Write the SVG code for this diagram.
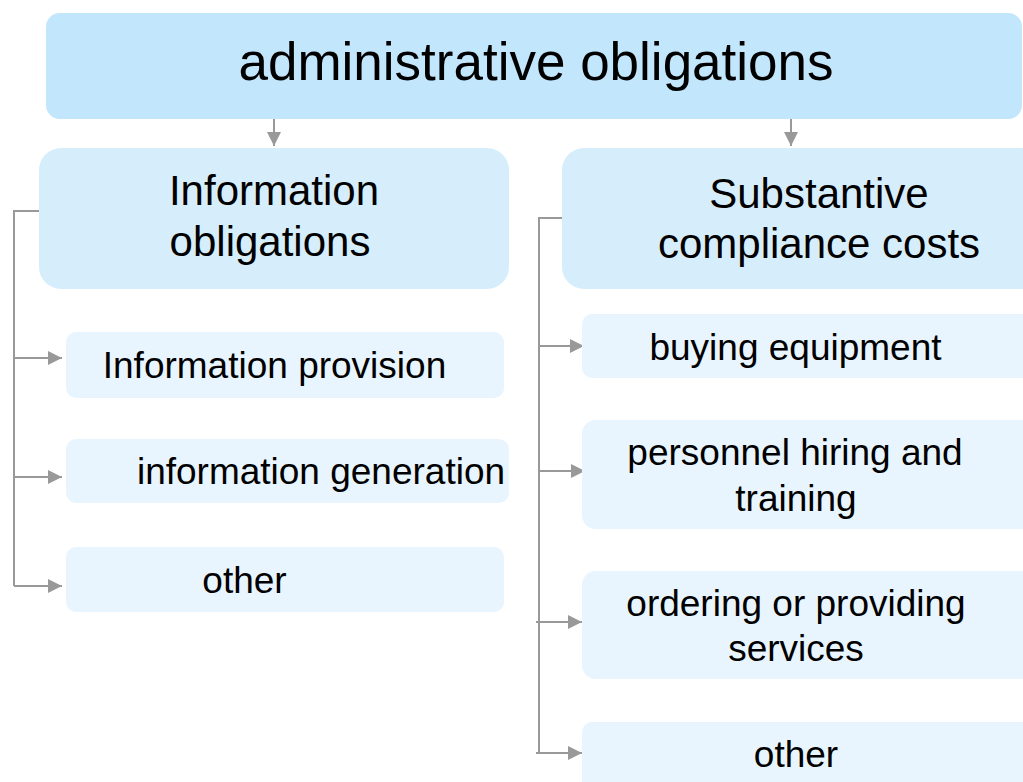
<svg xmlns="http://www.w3.org/2000/svg" width="1023" height="782" viewBox="0 0 1023 782">
<defs>
<style>
text{font-family:"Liberation Sans",Arial,sans-serif;fill:#000;text-anchor:middle}
.top{fill:#C2E6FC}
.hdr{fill:#D6EEFC}
.leaf{fill:#E8F5FE}
.t1{font-size:53px}
.t2{font-size:42px}
.t3{font-size:37px}
.conn{fill:none;stroke:#999;stroke-width:2}
</style>
<marker id="ah" markerUnits="userSpaceOnUse" markerWidth="14" markerHeight="14" refX="14" refY="7" orient="auto">
<path d="M0,0 L14,7 L0,14 Z" fill="#999"/>
</marker>
</defs>
<rect width="1023" height="782" fill="#fff"/>
<g id="connectors">
<path class="conn" d="M274,119 V146" marker-end="url(#ah)"/>
<path class="conn" d="M791,119 V146" marker-end="url(#ah)"/>
<path class="conn" d="M39,211 H14 V586"/>
<path class="conn" d="M14,358 H62" marker-end="url(#ah)"/>
<path class="conn" d="M14,477 H62" marker-end="url(#ah)"/>
<path class="conn" d="M14,586 H62" marker-end="url(#ah)"/>
<path class="conn" d="M562,218 H539 V753"/>
<path class="conn" d="M539,346 H584" marker-end="url(#ah)"/>
<path class="conn" d="M539,471 H585" marker-end="url(#ah)"/>
<path class="conn" d="M536,622 H582" marker-end="url(#ah)"/>
<path class="conn" d="M536,753 H582" marker-end="url(#ah)"/>
</g>
<g id="n-admin">
<rect class="top" x="46" y="13" width="976" height="106" rx="14"/>
<text class="t1" x="536" y="80">administrative obligations</text>
</g>
<g id="n-info">
<rect class="hdr" x="39" y="148" width="470" height="141" rx="22"/>
<text class="t2" x="274" y="205">Information</text>
<text class="t2" x="270" y="256">obligations</text>
</g>
<g id="n-subst">
<rect class="hdr" x="562" y="148" width="480" height="141" rx="22"/>
<text class="t2" x="819" y="208">Substantive</text>
<text class="t2" x="819" y="258">compliance costs</text>
</g>
<g id="n-provision">
<rect class="leaf" x="66" y="332" width="438" height="66" rx="10"/>
<text class="t3" x="274.5" y="378">Information provision</text>
</g>
<g id="n-generation">
<rect class="leaf" x="66" y="439" width="443" height="64" rx="10"/>
<text class="t3" x="321" y="484">information generation</text>
</g>
<g id="n-other-left">
<rect class="leaf" x="66" y="547" width="438" height="65" rx="10"/>
<text class="t3" x="244.5" y="593">other</text>
</g>
<g id="n-equipment">
<rect class="leaf" x="582" y="314" width="460" height="64" rx="10"/>
<text class="t3" x="795.5" y="360">buying equipment</text>
</g>
<g id="n-personnel">
<rect class="leaf" x="582" y="420" width="460" height="109" rx="14"/>
<text class="t3" x="795" y="465">personnel hiring and</text>
<text class="t3" x="796" y="511">training</text>
</g>
<g id="n-services">
<rect class="leaf" x="582" y="571" width="460" height="108" rx="14"/>
<text class="t3" x="796" y="616">ordering or providing</text>
<text class="t3" x="796" y="661">services</text>
</g>
<g id="n-other-right">
<rect class="leaf" x="582" y="722" width="460" height="80" rx="10"/>
<text class="t3" x="796" y="767">other</text>
</g>
</svg>
